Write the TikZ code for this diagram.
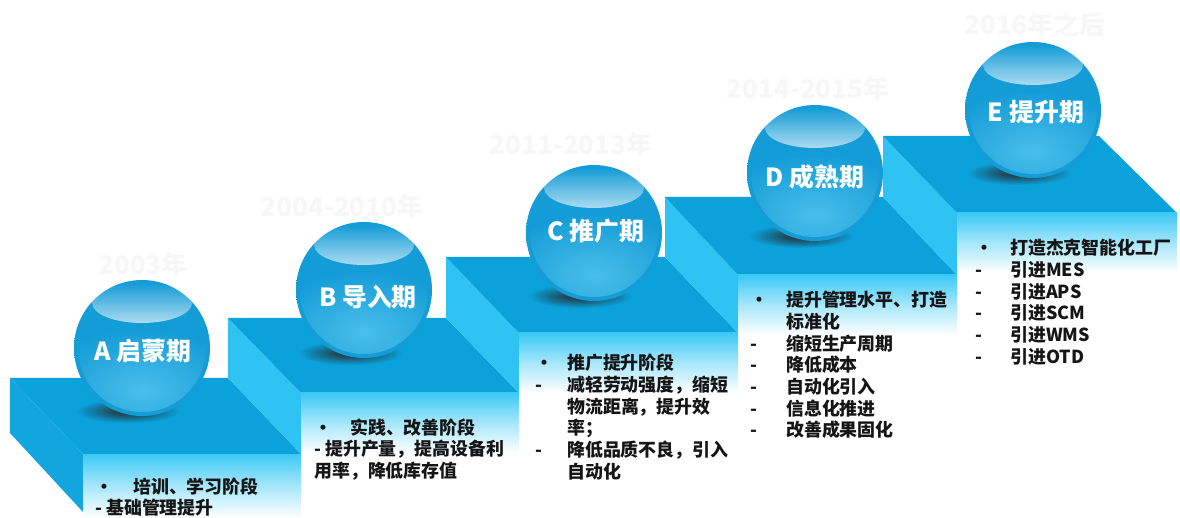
\documentclass[tikz,border=0pt]{standalone}
\usepackage{fontspec}
\setmainfont{Noto Sans CJK SC}
\usetikzlibrary{fadings}
\definecolor{topblue}{HTML}{0BA1DA}
\definecolor{sideblue}{HTML}{2EC3F2}
\definecolor{sideA}{HTML}{12A5DE}
\definecolor{frontcyan}{HTML}{3CC9F6}
\definecolor{ballc}{HTML}{149CD7}
\definecolor{ballrim}{HTML}{0A85C1}
\definecolor{glow}{HTML}{5CCBF2}
\definecolor{yearc}{HTML}{F7F7F7}
\definecolor{txt}{HTML}{151515}
\pgfdeclareradialshading{ballshade}{\pgfpointorigin}{color(0bp)=(ballc); color(40bp)=(ballc); color(47bp)=(ballrim); color(50bp)=(ballrim)}
\tikzfading[name=glowfade, inner color=transparent!0, outer color=transparent!100]
\begin{document}
\begin{tikzpicture}[x=1bp,y=-1bp,
  topface/.style={fill=topblue},
  leftface/.style={fill=sideblue},
  frontface/.style={top color=frontcyan, bottom color=white, middle color=frontcyan!45!white},
  shadowe/.style={inner color=black!85, outer color=topblue},
  ball/.style={shading=ballshade},
  glowe/.style={fill=glow, path fading=glowfade, fill opacity=0.75},
  hilite/.style={fill=white, path fading=north, fill opacity=0.65},
  yearlbl/.style={text=yearc, font=\fontsize{26}{30}\selectfont\bfseries, inner sep=0},
  balllbl/.style={text=white, font=\fontsize{25}{30}\selectfont\bfseries, inner sep=0},
  blocktxt/.style={anchor=base west, inner sep=0, text=txt, font=\fontsize{18}{21.7}\selectfont\bfseries}]
\useasboundingbox (0,0) rectangle (1180,518);

% ---- step A
\fill[topface] (10,378) -- (228,378) -- (301,454) -- (83,454) -- cycle;
\fill[sideA] (10,378) -- (83,454) -- (83,512) -- (10,433) -- cycle;
\shade[frontface] (83,454) rectangle (301,518);
% ---- step B
\fill[leftface] (228,318) -- (301,393) -- (301,454) -- (228,378) -- cycle;
\fill[topface] (228,318) -- (446,318) -- (519,393) -- (301,393) -- cycle;
\shade[frontface] (301,393) rectangle (519,453);
% ---- step C
\fill[leftface] (446,257) -- (519,333) -- (519,393) -- (446,318) -- cycle;
\fill[topface] (446,257) -- (665,257) -- (738,333) -- (519,333) -- cycle;
\shade[frontface] (519,333) rectangle (738,393);
% ---- step D
\fill[leftface] (665,197) -- (738,275) -- (738,333) -- (665,257) -- cycle;
\fill[topface] (665,197) -- (883,197) -- (957,275) -- (738,275) -- cycle;
\shade[frontface] (738,275) rectangle (957,335);
% ---- step E
\fill[leftface] (883,136) -- (957,213) -- (957,275) -- (883,197) -- cycle;
\fill[topface] (883,136) -- (1099,136) -- (1177,213) -- (957,213) -- cycle;
\shade[frontface] (957,213) rectangle (1177,273);

% ---- spheres
\foreach \cx/\cy in {142/348, 364/290, 594/233, 815/173, 1033/110} {
  \shade[shadowe] (\cx-14,\cy+63) ellipse [x radius=52, y radius=12];
  \shade[ball] (\cx,\cy) circle (68);
  \begin{scope}
    \clip (\cx,\cy) circle (64);
    \fill[glowe] (\cx,\cy+42) ellipse [x radius=100, y radius=62];
  \end{scope}
  \fill[hilite] (\cx,\cy-45) ellipse [x radius=50, y radius=20];
}

% ---- sphere labels
\node[balllbl] (la) at (143,351) {A 启蒙期};
\node[balllbl] (lb) at (368,297) {B 导入期};
\node[balllbl] (lc) at (596,231) {C 推广期};
\node[balllbl] (ld) at (815,177) {D 成熟期};
\node[balllbl] (le) at (1036,112) {E 提升期};

% ---- year labels
\node[yearlbl] (ya) at (143,265) {2003年};
\node[yearlbl] (yb) at (342,207) {2004-2010年};
\node[yearlbl] (yc) at (571,145) {2011-2013年};
\node[yearlbl] (yd) at (808,89) {2014-2015年};
\node[yearlbl] (ye) at (1035,25) {2016年之后};

% ---- text blocks
\node[blocktxt] (ta) at (95,493) {\parbox[t]{220bp}{\makebox[38bp][l]{•}培训、学习阶段\\- 基础管理提升}};
\node[blocktxt] (tb) at (314,434) {\parbox[t]{220bp}{\makebox[36bp][l]{•}实践、改善阶段\\- 提升产量，提高设备利\\用率，降低库存值}};
\node[blocktxt] (tc) at (535,370) {\parbox[t]{220bp}{\makebox[32bp][l]{•}推广提升阶段\\\makebox[32bp][l]{-}减轻劳动强度，缩短\\\hspace*{32bp}物流距离，提升效\\\hspace*{32bp}率；\\\makebox[32bp][l]{-}降低品质不良，引入\\\hspace*{32bp}自动化}};
\node[blocktxt] (td) at (750,307) {\parbox[t]{220bp}{\makebox[36bp][l]{•}提升管理水平、打造\\\hspace*{36bp}标准化\\\makebox[36bp][l]{-}缩短生产周期\\\makebox[36bp][l]{-}降低成本\\\makebox[36bp][l]{-}自动化引入\\\makebox[36bp][l]{-}信息化推进\\\makebox[36bp][l]{-}改善成果固化}};
\node[blocktxt] (te) at (975,255) {\parbox[t]{220bp}{\makebox[35bp][l]{•}打造杰克智能化工厂\\\makebox[35bp][l]{-}引进MES\\\makebox[35bp][l]{-}引进APS\\\makebox[35bp][l]{-}引进SCM\\\makebox[35bp][l]{-}引进WMS\\\makebox[35bp][l]{-}引进OTD}};
\end{tikzpicture}
\end{document}
